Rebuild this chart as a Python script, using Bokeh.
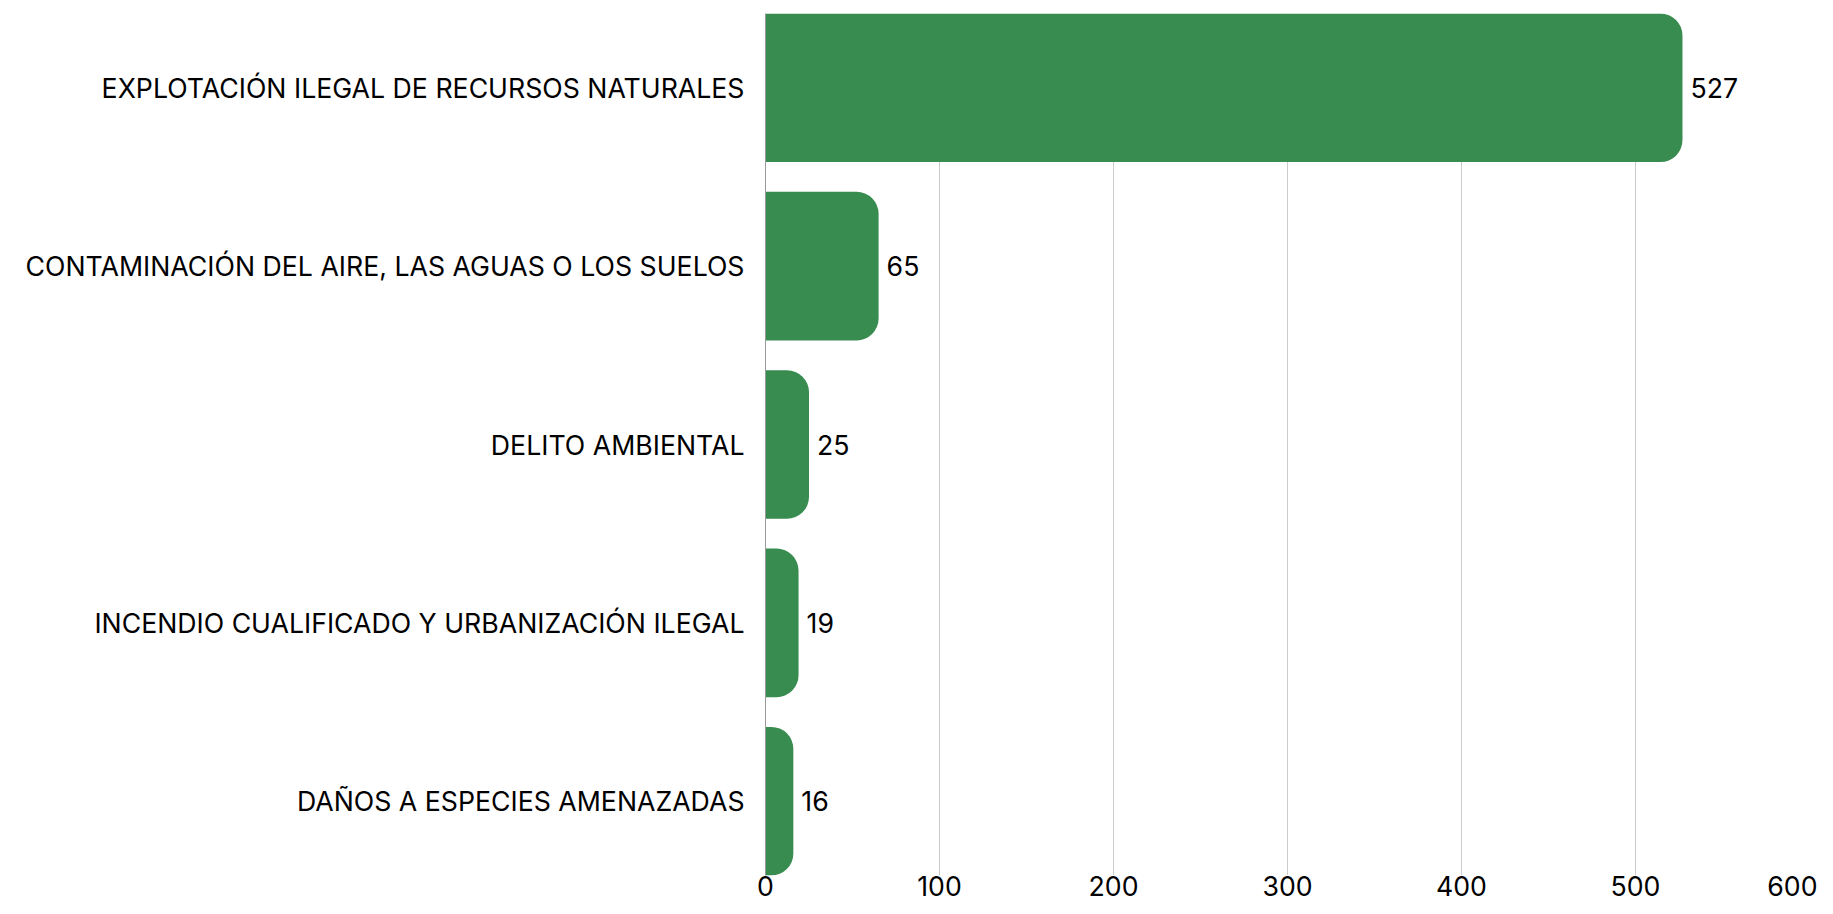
from bokeh.plotting import figure
from bokeh.models import Range1d, FixedTicker, ColumnDataSource
from bokeh.core.properties import value
from bokeh.embed import file_html
from bokeh.resources import INLINE

categories = [
    "EXPLOTACIÓN ILEGAL DE RECURSOS NATURALES",
    "CONTAMINACIÓN DEL AIRE, LAS AGUAS O LOS SUELOS",
    "DELITO AMBIENTAL",
    "INCENDIO CUALIFICADO Y URBANIZACIÓN ILEGAL",
    "DAÑOS A ESPECIES AMENAZADAS",
]
counts = [527, 65, 25, 19, 16]
x_ticks = [0, 100, 200, 300, 400, 500, 600]

FONT = "Inter"
FS = "26.7px"
n = len(categories)
pos = list(range(n))

src = ColumnDataSource(dict(y=pos, x=counts, lab=[str(c) for c in counts]))

p = figure(width=1817, height=898, output_backend="svg", toolbar_location=None,
           x_range=Range1d(0, 600), y_range=Range1d(n - 1 + 0.4165, -0.4165),
           min_border_left=765, min_border_right=8, min_border_top=13, min_border_bottom=10)
p.outline_line_color = None
p.background_fill_color = "white"
p.border_fill_color = "white"

p.hbar(y="y", right="x", left=0, height=0.833, source=src,
       fill_color="#388c50", line_color=None, border_radius=(0, 22, 22, 0))
p.text(x="x", y="y", text="lab", source=src, x_offset=8,
       text_baseline="middle", text_align="left", text_font=value(FONT),
       text_font_size=FS, text_color="#000000")

p.xgrid.ticker = FixedTicker(ticks=x_ticks)
p.xgrid.grid_line_color = "#cccccc"
p.xgrid.grid_line_width = 1
p.ygrid.grid_line_color = None

xa = p.xaxis[0]
xa.ticker = FixedTicker(ticks=x_ticks)
xa.axis_line_color = None
xa.major_tick_line_color = None
xa.minor_tick_line_color = None
xa.major_tick_out = 0
xa.major_tick_in = 0
xa.major_label_text_font = FONT
xa.major_label_text_font_size = FS
xa.major_label_text_color = "#000000"
xa.major_label_standoff = 0

ya = p.yaxis[0]
ya.ticker = FixedTicker(ticks=pos)
ya.major_label_overrides = {i: c for i, c in zip(pos, categories)}
ya.axis_line_color = "#999999"
ya.axis_line_width = 1
ya.major_tick_line_color = None
ya.minor_tick_line_color = None
ya.major_tick_out = 0
ya.major_tick_in = 0
ya.major_label_text_font = FONT
ya.major_label_text_font_size = FS
ya.major_label_text_color = "#000000"
ya.major_label_standoff = 21

open("out.html", "w").write(file_html(p, INLINE))
